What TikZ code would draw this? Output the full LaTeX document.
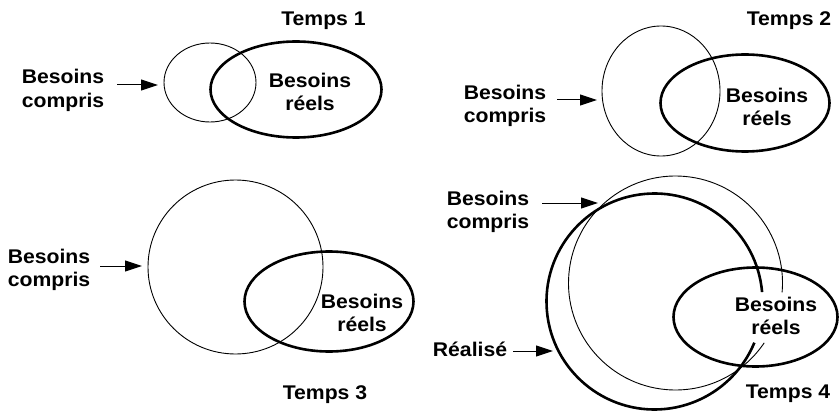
\documentclass[tikz,border=0pt]{standalone}
\usepackage{fontspec}
\newfontfamily\labfont{Liberation Sans}[FakeStretch=1.07]
\usetikzlibrary{shapes.geometric,arrows.meta}
\begin{document}
\begin{tikzpicture}[x=1pt,y=-1pt,
  lab/.style={font=\labfont\bfseries\fontsize{19.8}{23.5}\selectfont, align=center, inner sep=0pt},
  thinline/.style={draw, line width=0.9pt},
  thickline/.style={draw, line width=2.6pt},
  ell/.style={ellipse, inner sep=0pt, outer sep=0pt},
  arr/.style={line width=1pt, -{Triangle[length=17pt,width=11pt]}}]
\useasboundingbox (0,0) rectangle (840,414);

% ---------- Temps 1 ----------
\node[ell, thinline, minimum width=92pt, minimum height=79pt] (c1) at (210,82.5) {};
\node[ell, thickline, minimum width=171pt, minimum height=96pt] (e1) at (296,89.5) {};
\node[lab, anchor=base] (t1) at (323.5,26) {Temps 1};
\node[lab] (l1) at (63,90.3) {Besoins\\compris};
\node[lab] (r1) at (310,92) {Besoins\\réels};
\coordinate (a1) at (117,85);
\draw[arr, shorten >=6pt] (a1) -- (a1 -| c1.west);

% ---------- Temps 2 ----------
\node[ell, thinline, minimum width=118pt, minimum height=130pt] (c2) at (661,91) {};
\node[ell, thickline, minimum width=169pt, minimum height=97pt] (e2) at (745,103) {};
\node[lab, anchor=base] (t2) at (789,26) {Temps 2};
\node[lab] (l2) at (505,106) {Besoins\\compris};
\node[lab] (r2) at (767,107) {Besoins\\réels};
\coordinate (a2) at (557,100);
\draw[arr, shorten >=5pt] (a2) -- (a2 -| c2.west);

% ---------- Temps 3 ----------
\node[ell, thinline, minimum width=175pt, minimum height=174pt] (c3) at (235.5,267) {};
\node[ell, thickline, minimum width=169pt, minimum height=100pt] (e3) at (329,301.5) {};
\node[lab, anchor=base] (t3) at (325,399) {Temps 3};
\node[lab] (l3) at (49,270) {Besoins\\compris};
\node[lab] (r3) at (362,313) {Besoins\\réels};
\coordinate (a3) at (100,266);
\draw[arr, shorten >=6pt] (a3) -- (a3 -| c3.west);

% ---------- Temps 4 ----------
\coordinate (o4) at (675.5,283);
\coordinate (p4) at (654.5,301.5);
\draw[line width=0.9pt] (o4) ++(-5:107pt) arc[start angle=-5, end angle=326, radius=107pt];
\draw[line width=2.6pt] (p4) ++(5:108pt) arc[start angle=5, end angle=337.6, radius=108pt];
\node[ell, thickline, minimum width=164pt, minimum height=99pt] (e4) at (755.5,317) {};
\node[lab, anchor=base] (t4) at (788,398) {Temps 4};
\node[lab] (l4) at (488,212) {Besoins\\compris};
\node[lab] (r4) at (776,316) {Besoins\\réels};
\node[lab, anchor=base] (rl) at (470,356) {Réalisé};
\coordinate (a4s) at (542,203);
\coordinate (a4e) at (598,203);
\draw[arr] (a4s) -- (a4e);
\coordinate (a5s) at (513,351);
\coordinate (a5e) at (553,351);
\draw[arr] (a5s) -- (a5e);
\end{tikzpicture}
\end{document}
